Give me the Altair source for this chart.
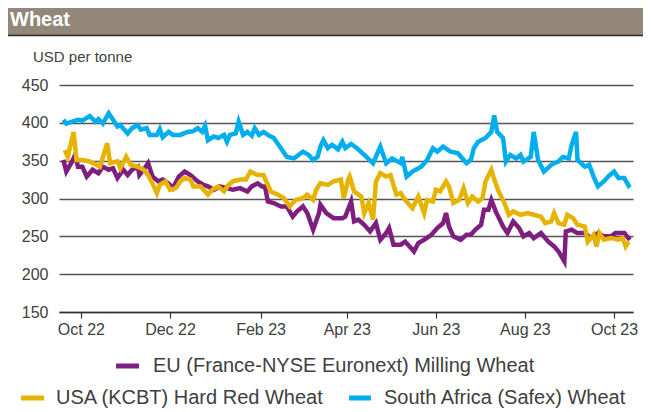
import altair as alt
import pandas as pd

# ---------------- data ----------------
BASE_DATE = "2022-09-16"  # day 0 of the day offsets below

series_names = [
    "EU (France-NYSE Euronext) Milling Wheat",
    "USA (KCBT) Hard Red Wheat",
    "South Africa (Safex) Wheat",
]
series_colors = ["#7e1f80", "#e6b400", "#00aeef"]

eu_days = [3, 5, 9, 11, 13, 16, 19, 23, 27, 30,
           34, 37, 40, 44, 47, 50, 54, 55, 58, 61,
           64, 68, 71, 75, 78, 82, 86, 90, 95, 99,
           102, 106, 110, 115, 119, 124, 129, 132, 136, 139,
           141, 143, 147, 152, 156, 160, 163, 167, 170, 174,
           178,
           179, 183, 188, 194, 196, 200, 202, 205, 209, 213,
           217, 220, 224, 226, 229, 234, 237, 241, 243, 246,
           250, 255, 259, 263, 265, 267, 270, 275, 279, 282,
           285, 289, 291, 294, 296, 299, 304, 307, 311, 315,
           318, 322, 325, 330, 335, 339, 342, 346, 347, 351,
           355, 360, 364, 369, 373, 378, 381, 387, 390, 391]
eu_vals = [351, 335.6, 349, 357.6, 342, 342, 329, 338, 333.5, 342,
           338, 340, 327, 338, 331, 338, 342, 331, 338, 346.7,
           329, 322.6, 325, 320, 313.7, 329, 335.6, 331, 322.6, 318,
           316, 311.5, 316, 313.7, 311.5, 313.7, 309.3, 316, 320, 316,
           316, 296, 294, 289.5, 289.5, 276, 283, 289.5, 280.7, 258.7,
           280.7,
           291.7, 280.7, 274, 274, 276, 296, 269.7, 272, 265.3, 256.5,
           267.5, 245.5, 254.3, 261, 239, 239, 243, 234.5, 230, 241,
           245.5, 252, 261, 267.5, 280.7, 263, 250, 245.5, 252, 252,
           258.7, 265.3, 285, 285, 298, 283, 263, 254.3, 269.7, 261,
           250, 254.3, 247.6, 254.3, 243, 236.7, 230, 217, 256.5, 258.7,
           254.3, 254.3, 247.6, 254.3, 250, 250, 254.3, 254.3, 247.6, 245.5]

usa_days = [4, 6, 10, 12, 16, 21, 28, 33, 35, 40,
            42, 46, 49, 54, 58, 61, 64, 67, 69, 73,
            76, 80, 83, 86, 90, 92, 97, 102, 105, 109,
            113, 116, 119, 124, 128, 131, 136, 140, 145, 150,
            154, 158, 162, 167, 170, 174, 176,
            179, 184, 188, 193, 195, 198, 199, 202, 207, 209,
            212, 215, 217, 220, 224, 227, 231, 234, 237, 242,
            246, 250, 252, 256, 258, 261, 265, 267, 270, 274,
            277, 280, 283, 287, 290, 292, 296, 298, 301, 305,
            308, 311, 316, 321, 325, 330, 333, 337, 339, 342,
            346, 348, 352, 355, 360, 362, 366, 368, 370, 373,
            378, 383, 386, 388, 390]
usa_vals = [364, 355, 388, 351, 351, 349, 342, 373, 346.7, 349,
            340, 355, 344.5, 342, 338, 331, 320, 307, 318, 322.6,
            311.5, 313.7, 322.6, 327, 325, 316, 316, 305, 311.5, 316,
            309.3, 318, 322.6, 325, 325, 335.6, 331, 331, 309.3, 305,
            300.5, 289.5, 298, 300.5, 305, 298, 311.5,
            320, 318, 322.6, 325, 300.5, 325, 329, 309.3, 302.6, 280.7,
            293.9, 272, 322.6, 333.5, 329, 331, 305, 307, 298, 287,
            302.6, 280.7, 298, 296, 311.5, 309.3, 322.6, 316, 294, 298,
            313.7, 294, 302.6, 296, 300.5, 322.6, 338, 325, 309.3, 294,
            278.5, 283, 278.5, 280.7, 278.5, 276, 267.5, 269.7, 280.7, 267.5,
            265.3, 278.5, 274, 265.3, 263, 243, 252, 236.7, 254.3, 245.5,
            247.6, 245.5, 247.6, 236.7, 243]

sa_days = [3, 5, 9, 13, 16, 21, 25, 27, 30, 34,
           37, 40, 42, 47, 50, 54, 56, 60, 62, 67,
           69, 71, 75, 78, 83, 88, 92, 95, 98, 100,
           102, 106, 109, 113, 115, 117, 121, 123, 126, 129,
           132, 134, 137, 140, 143, 147, 152, 156, 161, 167,
           171, 174, 177, 179, 181, 184, 187, 191, 194, 196,
           200, 204, 209, 215, 220, 224, 228, 234, 235, 238,
           242, 248, 252, 256, 259, 263, 268, 273, 279, 282,
           284, 287, 292, 296, 298, 300, 304, 306, 309, 313,
           316, 318, 323, 325, 328, 332, 337, 342, 345, 349,
           351, 354, 355, 360, 363, 366, 369, 373, 376, 380,
           383, 387, 390, 391]
sa_vals = [404, 399, 401.6, 404, 403, 409, 401.6, 405, 399, 412.6,
           404, 395, 397, 386, 393, 397, 391, 393, 384, 384,
           391.6, 381, 388, 384, 384, 388, 389, 393, 388, 396,
           377, 382, 380, 384, 375, 384, 386, 401.6, 384, 388,
           383, 393, 384, 388, 384, 380, 366.5, 355, 353, 362,
           357.6, 351, 355, 368.6, 377, 366.5, 371, 365, 375, 366.5,
           372, 366.5, 357.6, 346.7, 368.6, 346.7, 353, 346.7, 355, 329,
           335.6, 342, 351, 366.5, 362, 368.6, 362, 360, 346.7, 351,
           366.5, 375, 380, 388, 410, 388, 380, 349, 357.6, 353,
           357.6, 349, 355, 388, 351, 335.6, 344.5, 349, 355, 353,
           371, 388, 351, 342, 344.5, 329, 316, 322.6, 329, 335.6,
           327, 327, 317, 319]

y_ticks = [150, 200, 250, 300, 350, 400, 450]
x_tick_dates = ["2022-10-01", "2022-12-01", "2023-02-01", "2023-04-01",
                "2023-06-01", "2023-08-01", "2023-10-01"]
x_domain = ["2022-09-16", "2023-10-14"]
title_text = "Wheat"
unit_text = "USD per tonne"

# ---------------- table ----------------
base = pd.Timestamp(BASE_DATE)
frames = []
for name, days, vals in [(series_names[0], eu_days, eu_vals),
                         (series_names[1], usa_days, usa_vals),
                         (series_names[2], sa_days, sa_vals)]:
    frames.append(pd.DataFrame({
        "date": [(base + pd.Timedelta(days=d)).strftime("%Y-%m-%d") for d in days],
        "value": vals,
        "series": name,
    }))
df = pd.concat(frames, ignore_index=True)


def ms(s):
    return int(pd.Timestamp(s, tz="UTC").value // 10**6)


# ---------------- layout (pixels, plot coordinates) ----------------
W, H = 574, 227
PAD_L, PAD_T, PAD_R, PAD_B = 51, 77, 10, 97
FONT = "Liberation Sans"
TEXT_COL = "#404040"

x_enc = alt.X(
    "date:T",
    scale=alt.Scale(type="utc", domain=[ms(d) for d in x_domain]),
    axis=alt.Axis(
        values=[ms(d) for d in x_tick_dates],
        labelExpr="utcFormat(datum.value, '%b %y')",
        title=None, grid=False, domain=True, domainColor="#333333",
        domainWidth=1.5, ticks=True, tickColor="#333333", tickSize=6,
        tickWidth=1.2, labelFont=FONT, labelFontSize=16, labelColor=TEXT_COL,
        labelPadding=3, labelFlush=False,
    ),
)
y_enc = alt.Y(
    "value:Q",
    scale=alt.Scale(domain=[150, 450], nice=False, zero=False),
    axis=alt.Axis(
        values=y_ticks, title=None, grid=True, gridColor="#555555",
        gridWidth=1.5, domain=False, ticks=False, labelFont=FONT,
        labelFontSize=16, labelColor=TEXT_COL, labelPadding=11,
    ),
)

color_scale = alt.Scale(domain=series_names, range=series_colors)

line_layers = []
for name in series_names:
    line_layers.append(
        alt.Chart(df).transform_filter(alt.datum.series == name)
        .mark_line(strokeWidth=4.5, clip=True)
        .encode(x=x_enc, y=y_enc,
                color=alt.Color("series:N", scale=color_scale, legend=None))
    )

one = pd.DataFrame({"k": [0]})

title_bg = alt.Chart(one).mark_rect(color="#928778").encode(
    x=alt.value(-PAD_L), x2=alt.value(W + PAD_R),
    y=alt.value(-PAD_T), y2=alt.value(-50))
title_rule = alt.Chart(one).mark_rule(color="#2b2b2b", strokeWidth=1.5).encode(
    x=alt.value(-PAD_L), x2=alt.value(W + PAD_R), y=alt.value(-49.5))
title_txt = alt.Chart(pd.DataFrame({"t": [title_text]})).mark_text(
    font=FONT, fontSize=20, fontWeight="bold", color="white",
    align="left", baseline="alphabetic").encode(
    text="t:N", x=alt.value(-49), y=alt.value(-59))
unit_txt = alt.Chart(pd.DataFrame({"t": [unit_text]})).mark_text(
    font=FONT, fontSize=15, color=TEXT_COL, align="left",
    baseline="middle").encode(text="t:N", x=alt.value(-26), y=alt.value(-28))

# legend: (swatch x1, swatch x2, text x, y) in plot coordinates
legend_pos = [(57, 80, 94, 281), (-38, -15, -3, 313), (290, 312, 325, 313)]
legend_layers = []
for name, col, (sx1, sx2, tx, ly) in zip(series_names, series_colors, legend_pos):
    legend_layers.append(
        alt.Chart(one).mark_rule(color=col, strokeWidth=5).encode(
            x=alt.value(sx1), x2=alt.value(sx2), y=alt.value(ly)))
    legend_layers.append(
        alt.Chart(pd.DataFrame({"t": [name]})).mark_text(
            font=FONT, fontSize=20, color=TEXT_COL, align="left",
            baseline="middle").encode(text="t:N", x=alt.value(tx), y=alt.value(ly)))

chart = alt.layer(
    *line_layers, title_bg, title_rule, title_txt, unit_txt, *legend_layers
).properties(
    width=W, height=H, autosize="none",
    padding={"left": PAD_L, "top": PAD_T, "right": PAD_R, "bottom": PAD_B},
    background="white",
).configure_view(stroke=None)

chart.save("out.html", embed_options={"renderer": "svg", "actions": False})
